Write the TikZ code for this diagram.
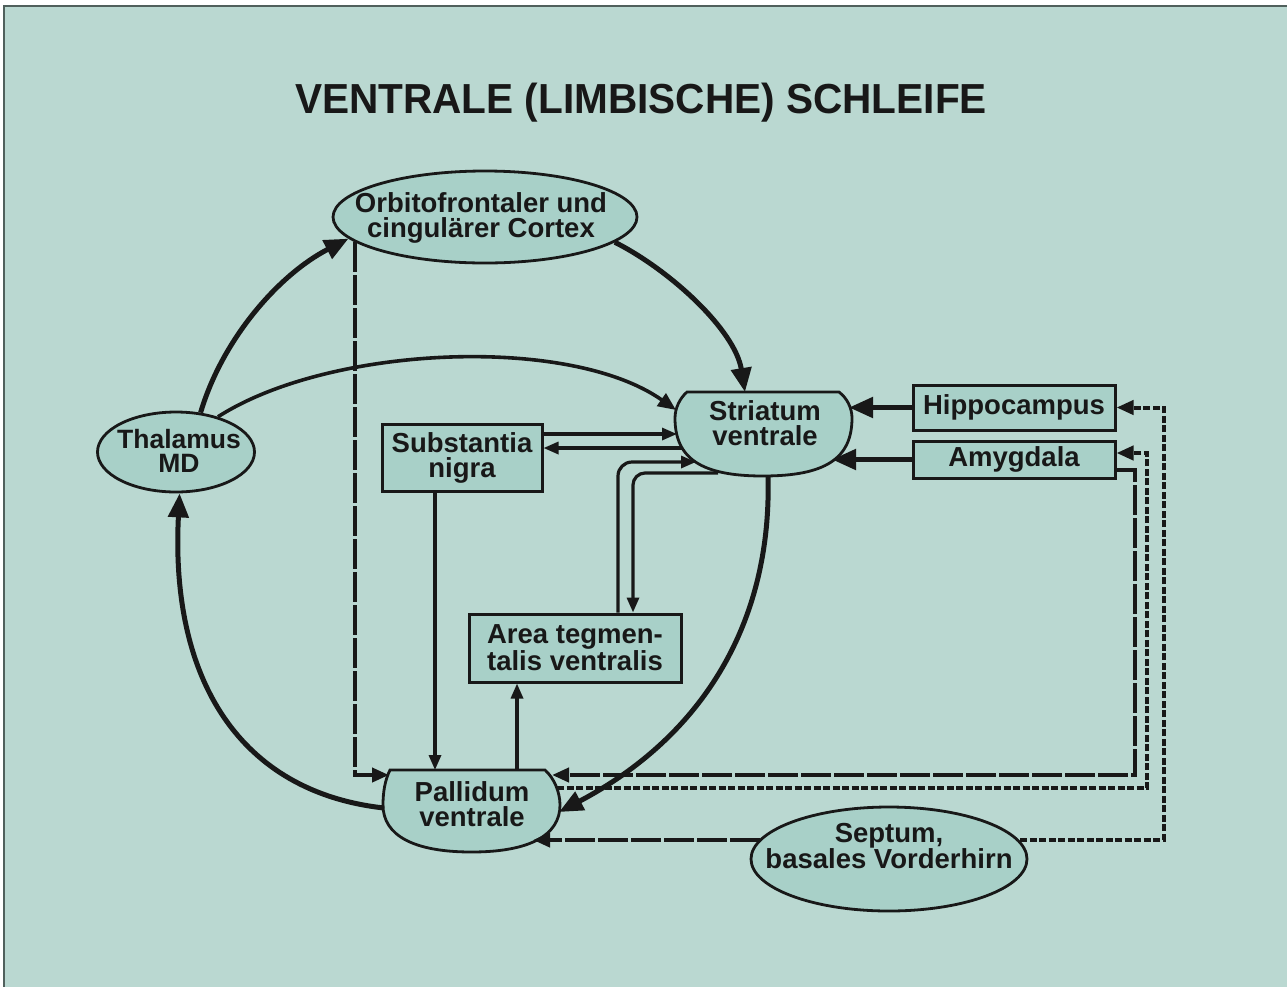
\documentclass[tikz,border=0pt]{standalone}
\usepackage{fontspec}
\usepackage{graphicx}
\setmainfont{Liberation Sans}
\usetikzlibrary{arrows.meta,calc,shapes.geometric}
\definecolor{bg}{RGB}{186,216,209}
\definecolor{nodefill}{RGB}{168,208,200}
\definecolor{ink}{RGB}{24,24,24}
\definecolor{framec}{RGB}{80,96,92}
\begin{document}
\begin{tikzpicture}[x=1pt,y=-1pt,
  lbl/.style={font=\bfseries\fontsize{27.5}{25}\selectfont, text=ink, align=center, inner sep=0pt},
  oval/.style={ellipse, draw=ink, line width=2.8pt, fill=nodefill, inner sep=0pt},
  box/.style={rectangle, draw=ink, line width=3pt, fill=nodefill, inner sep=0pt, lbl},
  shapeline/.style={fill=nodefill, draw=ink, line width=2.8pt},
  bigarc/.style={draw=ink, line width=5pt, -{Triangle[length=24pt,width=20pt]}},
  midarc/.style={draw=ink, line width=3.6pt, -{Triangle[length=18pt,width=15pt]}},
  thinarr/.style={draw=ink, line width=3.2pt, -{Triangle[length=15pt,width=12pt]}},
  longdash/.style={draw=ink, line width=4pt, dash pattern=on 30pt off 3pt, -{Triangle[length=17pt,width=14pt]}},
  shortdash/.style={draw=ink, line width=4pt, dash pattern=on 7pt off 2.5pt, -{Triangle[length=17pt,width=14pt]}}
]
\useasboundingbox (0,0) rectangle (1287,986);
\fill[white] (0,0) rectangle (1287,986);
\filldraw[fill=bg, draw=framec, line width=1.5pt] (4,6) rectangle (1295,995);

% title
\node[font=\bfseries\fontsize{42}{46}\selectfont, text=ink, anchor=base, inner sep=0pt] (title) at (641,113) {\scalebox{0.966}[1]{VENTRALE (LIMBISCHE) SCHLEIFE}};

% oval nodes
\node[oval, minimum width=304pt, minimum height=92pt] (orb) at (485,217) {};
\node[lbl] (orbt) at (481,217.5) {Orbitofrontaler und\\cingulärer Cortex};
\node[oval, minimum width=157pt, minimum height=80pt] (thal) at (176,452) {};
\node[lbl, font=\bfseries\fontsize{26.5}{24}\selectfont] (thalt) at (179,451) {Thalamus\\MD};
\node[oval, minimum width=276pt, minimum height=104pt] (sept) at (889,859) {};
\node[lbl] (septt) at (889,846) {Septum,\\basales Vorderhirn};

% chopped ovals
\filldraw[shapeline] (687,392) -- (839,392)
  .. controls (847,398) and (852,408) .. (852,418)
  .. controls (852,458.6) and (825.3,476) .. (763,476)
  .. controls (701.4,476) and (675,458.6) .. (675,418)
  .. controls (675,408) and (680,398) .. (687,392) -- cycle;
\node[lbl] (str) at (765,423) {Striatum\\ventrale};
\filldraw[shapeline] (390,770) -- (545,770)
  .. controls (554,778) and (560,792) .. (560,805)
  .. controls (560,835.6) and (529,852) .. (471.5,852)
  .. controls (414,852) and (383,835.6) .. (383,805)
  .. controls (383,792) and (385,780) .. (390,770) -- cycle;
\node[lbl] (pal) at (472,804.5) {Pallidum\\ventrale};

% boxes
\node[box, minimum width=202pt, minimum height=45pt] (hip) at (1014,407.5) {Hippocampus};
\node[box, minimum width=202pt, minimum height=37pt] (amy) at (1014,459.5) {Amygdala};
\node[box, minimum width=160pt, minimum height=67pt] (sn) at (462,457.5) {Substantia\\nigra};
\node[box, minimum width=212pt, minimum height=68pt] (atv) at (575,648) {Area tegmen-\\talis ventralis};

% main loop
\draw[bigarc] (thal.58) .. controls (222,340) and (278,275) .. (orb.189);
\draw[bigarc] (orb.-11) .. controls (670,270) and (735,330) .. ($(str)+(-20,-31)$);
\draw[bigarc] ($(str)+(3,53)$) .. controls (772,620) and (705,735) .. ($(pal)+(87,7.5)$);
\draw[bigarc] ($(pal)+(-88,3.5)$) .. controls (240,792) and (170,680) .. (thal.-85);
\draw[midarc] (thal.40) .. controls (330,345) and (570,335) .. ($(str)+(-89,-13)$);

% orbitofrontal -> pallidum
\draw[longdash] (orb.191) |- ($(pal)+(-83,-29.5)$);

% substantia nigra
\draw[thinarr] ($(sn.east)+(0,-23.5)$) -- ($(str)+(-88,11)$);
\draw[thinarr] ($(str)+(-83,25)$) -- ($(sn.east)+(0,-9.5)$);
\draw[thinarr] ($(sn.south)+(-27,0)$) -- ($(pal)+(-37,-34.5)$);
\draw[thinarr] ($(pal)+(45,-34.5)$) -- ($(atv.south)+(-58,0)$);

% area tegmentalis ventralis <-> striatum
\draw[thinarr, rounded corners=14pt] ($(atv.north)+(43,0)$) |- ($(str)+(-69,39)$);
\draw[thinarr, rounded corners=12pt] ($(str)+(-47,50)$) -| ($(atv.north)+(58,0)$);

% hippocampus / amygdala -> striatum
\draw[bigarc] (hip.west) -- ($(str)+(84,-15.5)$);
\draw[bigarc] (amy.west) -- ($(str)+(67,36.5)$);

% dashed returns
\draw[longdash] ($(amy.east)+(0,10.5)$) -- ++(18,0) |- ($(pal)+(80,-29.5)$);
\draw[shortdash] ($(pal)+(85,-16.5)$) -- ++(590,0) |- ($(amy.east)+(0,-6.5)$);
\draw[shortdash] ($(sept.east)+(-8,-19)$) -| ($(hip.east)+(47,0)$) -- (hip.east);
\draw[longdash] ($(sept.west)+(10,-19)$) -- ($(pal)+(61,35.5)$);
\end{tikzpicture}
\end{document}
